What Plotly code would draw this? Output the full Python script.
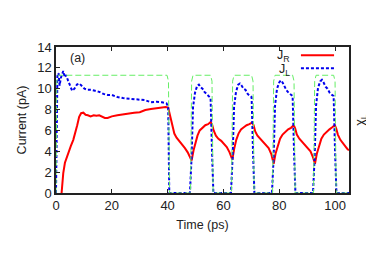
import plotly.graph_objects as go

# ---- data ----
t_chi = [0, 0.3, 0.8, 39.8, 40.3, 40.7,
         48.2, 48.6, 49.1, 55.4, 55.9, 56.3,
         62.9, 63.3, 63.8, 70.1, 70.6, 71.0,
         77.6, 78.0, 78.5, 84.8, 85.3, 85.7,
         92.3, 92.7, 93.2, 99.5, 100.0, 100.4, 105]
chi_L = [0, 0.95, 1, 1, 0.95, 0,
         0, 0.95, 1, 1, 0.95, 0,
         0, 0.95, 1, 1, 0.95, 0,
         0, 0.95, 1, 1, 0.95, 0,
         0, 0.95, 1, 1, 0.95, 0, 0]

t_L = [0, 0.2, 0.5, 0.9, 1.3, 1.7, 2.2, 2.6, 3.1, 3.6, 4.3, 5.0, 5.8, 6.6, 7.5, 8.4, 9.2,
       10.2, 11.2, 12.5, 14.0, 15.5, 17.0, 18.5, 20, 22, 24, 26, 28, 30, 32, 34, 36, 38, 39.6, 40.2, 40.6,
       48.0, 48.6, 49.1, 49.8, 50.6, 51.2, 51.8, 52.5, 53.2, 54.0, 54.8, 55.4, 55.9, 56.4,
       62.7, 63.3, 63.8, 64.5, 65.3, 65.9, 66.5, 67.2, 67.9, 68.7, 69.5, 70.1, 70.6, 71.1,
       77.4, 78.0, 78.5, 79.2, 80.0, 80.6, 81.2, 81.9, 82.6, 83.4, 84.2, 84.8, 85.3, 85.8,
       92.1, 92.7, 93.2, 93.9, 94.7, 95.3, 95.9, 96.6, 97.3, 98.1, 98.9, 99.5, 100.0, 100.5, 105]
J_L = [0, 8.0, 11.2, 11.5, 10.3, 11.0, 11.4, 11.7, 11.1, 11.3, 10.8, 10.3, 9.8, 10.0, 10.4, 10.5, 10.3,
       10.0, 9.9, 9.9, 9.8, 9.7, 9.5, 9.4, 9.4, 9.2, 9.1, 9.05, 9.0, 8.95, 8.9, 8.7, 8.75, 8.7, 8.6, 8.3, 0,
       0, 3.5, 8.2, 9.6, 10.3, 10.4, 10.15, 10.0, 9.7, 9.5, 9.3, 9.1, 4.0, 0,
       0, 3.5, 8.2, 9.7, 10.4, 10.5, 10.3, 10.0, 9.9, 9.5, 9.3, 9.2, 4.0, 0,
       0, 3.5, 8.4, 10.0, 10.6, 10.8, 10.6, 10.2, 9.85, 9.6, 9.4, 9.3, 4.0, 0,
       0, 3.5, 8.4, 10.1, 10.7, 10.85, 10.6, 10.2, 10.0, 9.6, 9.4, 9.3, 4.0, 0, 0]

t_R = [2.0, 2.6, 3.2, 3.8, 4.4, 5.3, 6.2, 7.0, 7.6, 8.3, 9.0, 9.8, 10.6, 11.4, 12.4, 13.5, 14.5,
       15.5, 16.5, 17.5, 18.5, 20, 22, 24, 26, 28, 30, 32, 34, 36, 38, 39.3, 40.2, 40.9, 41.6,
       42.4, 43.2, 44.2, 45.2, 46.2, 47.2, 48.0, 48.6,
       49.3, 50.0, 50.7, 51.5, 52.5, 53.5, 54.5, 55.4, 55.9, 56.5, 57.3, 58.2, 59.2, 60.2, 61.2, 62.2, 63.2,
       63.9, 64.6, 65.4, 66.3, 67.3, 68.3, 69.3, 70.3, 70.8, 71.4, 72.2, 73.2, 74.2, 75.2, 76.2, 77.2, 78.0,
       78.7, 79.5, 80.3, 81.2, 82.2, 83.2, 84.2, 85.2, 85.7, 86.3, 87.2, 88.2, 89.2, 90.2, 91.2, 92.0, 92.8,
       93.5, 94.3, 95.1, 96.0, 97.0, 98.0, 99.0, 99.9, 100.4, 101.0, 101.9, 102.9, 103.9, 104.5, 105]
J_R = [0, 1.9, 2.9, 3.4, 3.9, 4.5, 5.1, 5.8, 6.5, 7.3, 7.65, 7.7, 7.5, 7.45, 7.35, 7.45, 7.4,
       7.45, 7.3, 7.2, 7.2, 7.35, 7.45, 7.55, 7.6, 7.7, 7.75, 7.95, 8.05, 8.15, 8.2, 8.25, 8.2, 7.4, 6.4,
       5.7, 5.3, 5.0, 4.7, 4.3, 3.9, 3.5, 3.1,
       4.1, 4.9, 5.5, 6.0, 6.3, 6.5, 6.6, 6.8, 6.6, 6.0, 5.5, 5.2, 5.0, 4.7, 4.4, 3.9, 3.2,
       4.3, 5.1, 5.7, 6.1, 6.3, 6.5, 6.6, 6.75, 6.5, 5.9, 5.5, 5.2, 5.0, 4.7, 4.3, 3.7, 2.8,
       3.8, 4.6, 5.2, 5.6, 5.9, 6.1, 6.25, 6.5, 6.2, 5.6, 5.2, 4.9, 4.7, 4.4, 4.0, 3.5, 2.8,
       3.8, 4.6, 5.2, 5.6, 5.9, 6.1, 6.3, 6.5, 6.2, 5.6, 5.1, 4.8, 4.4, 4.2, 4.1]

x_ticks = [0, 20, 40, 60, 80, 100]
y_ticks = [0, 2, 4, 6, 8, 10, 12, 14]

FONT = "Liberation Sans, Arial, sans-serif"
TXT = "#222"

fig = go.Figure()
fig.add_trace(go.Scatter(x=t_chi, y=chi_L, mode="lines", yaxis="y2",
                         line=dict(color="#66ee66", width=1, dash="6px,3px"), name="χL"))
fig.add_trace(go.Scatter(x=t_R, y=J_R, mode="lines",
                         line=dict(color="#ff0000", width=2), name="J_R"))
fig.add_trace(go.Scatter(x=t_L, y=J_L, mode="lines",
                         line=dict(color="#0000ee", width=2, dash="3px,2px"), name="J_L"))

axis_common = dict(showgrid=False, zeroline=False, showline=True, linecolor=TXT,
                   linewidth=1.5, tickfont=dict(family=FONT, size=13, color=TXT),
                   ticks="inside", ticklen=4, tickcolor=TXT, tickwidth=1, automargin=False)

fig.update_layout(
    width=374, height=262,
    margin=dict(l=48, r=33, t=39, b=77, autoexpand=False),
    paper_bgcolor="white", plot_bgcolor="white",
    showlegend=False,
    font=dict(family=FONT, size=12, color=TXT),
    xaxis=dict(range=[0, 105], tickvals=x_ticks, mirror="ticks",
               title=dict(text="Time (ps)", font=dict(family=FONT, size=12.5, color=TXT), standoff=8),
               **axis_common),
    yaxis=dict(range=[0, 14], tickvals=y_ticks, mirror=True,
               title=dict(text="Current (pA)", font=dict(family=FONT, size=12.5, color=TXT), standoff=8),
               **axis_common),
    yaxis2=dict(range=[0, 1.24], overlaying="y", side="right", showgrid=False,
                zeroline=False, showticklabels=False, ticks="", showline=False, automargin=False,
                title=dict(text="χ<sub>L</sub>", font=dict(family=FONT, size=12.5, color=TXT), standoff=6)),
    annotations=[
        dict(x=0.075, y=0.926, xref="paper", yref="paper", text="(a)", showarrow=False,
             font=dict(family=FONT, size=12.5, color=TXT), xanchor="center", yanchor="middle"),
        dict(x=0.805, y=0.935, xref="paper", yref="paper", text="J<sub>R</sub>", showarrow=False,
             font=dict(family=FONT, size=12.5, color=TXT), xanchor="right", yanchor="middle"),
        dict(x=0.805, y=0.845, xref="paper", yref="paper", text="J<sub>L</sub>", showarrow=False,
             font=dict(family=FONT, size=12.5, color=TXT), xanchor="right", yanchor="middle"),
    ],
    shapes=[
        dict(type="line", xref="paper", yref="paper", x0=0.836, x1=0.949, y0=0.943, y1=0.943,
             line=dict(color="#ff0000", width=2)),
        dict(type="line", xref="paper", yref="paper", x0=0.836, x1=0.949, y0=0.854, y1=0.854,
             line=dict(color="#0000ee", width=2, dash="3px,2px")),
    ],
)

fig.write_html("out.html")
